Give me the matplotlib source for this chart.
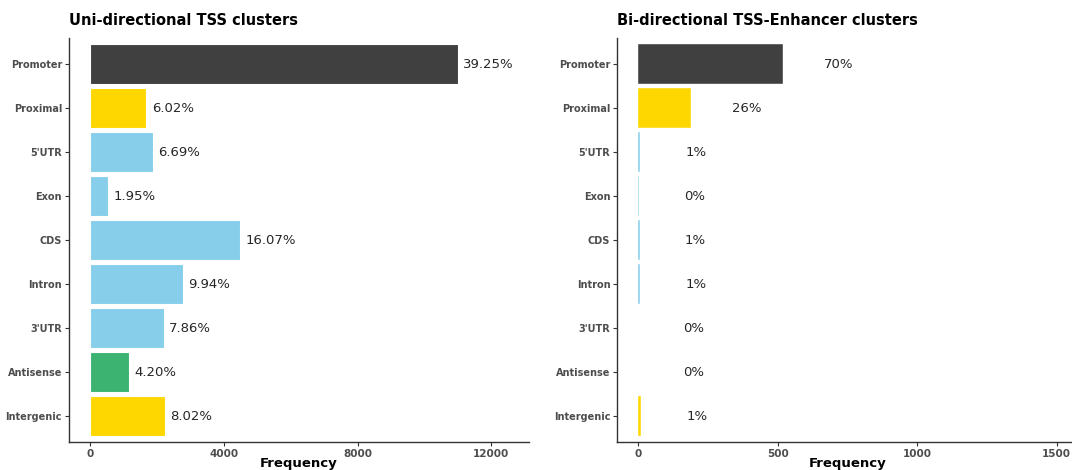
import matplotlib.pyplot as plt

# genomic annotation categories, top to bottom
categories = ["Promoter", "Proximal", "5'UTR", "Exon", "CDS", "Intron",
              "3'UTR", "Antisense", "Intergenic"]
bar_colors = ["#404040", "#FFD700", "#87CEEB", "#87CEEB", "#87CEEB",
              "#87CEEB", "#87CEEB", "#3CB371", "#FFD700"]

# uni-directional TSS clusters: counts and their share
uni_counts = [10990, 1686, 1873, 546, 4500, 2783, 2201, 1176, 2246]
uni_labels = ["39.25%", "6.02%", "6.69%", "1.95%", "16.07%", "9.94%",
              "7.86%", "4.20%", "8.02%"]
uni_ticks = [0, 4000, 8000, 12000]

# bi-directional TSS-enhancer clusters
bi_counts = [520, 190, 8, 2, 5, 6, 0, 0, 10]
bi_labels = ["70%", "26%", "1%", "0%", "1%", "1%", "0%", "0%", "1%"]
bi_ticks = [0, 500, 1000, 1500]

W, H = 1072, 470
fig = plt.figure(figsize=(W / 100, H / 100), dpi=100)

# panel boxes in pixels: left, right, top, bottom
ax1 = fig.add_axes([69 / W, 1 - 442.4 / H, (529 - 69) / W, (442.4 - 37.6) / H])
ax2 = fig.add_axes([617.3 / W, 1 - 442.4 / H, (1077.6 - 617.3) / W, (442.4 - 37.6) / H])

ypos = list(range(len(categories)))


def style_axis(ax, ticks, xlim, title):
    ax.set_xlim(*xlim)
    ax.set_ylim(len(categories) - 1 + 0.6, -0.6)
    ax.set_yticks(ypos)
    ax.set_yticklabels(categories, fontsize=7, fontweight="bold", color="#4D4D4D")
    ax.set_xticks(ticks)
    ax.set_xticklabels([str(t) for t in ticks], fontsize=7.5, fontweight="bold",
                       color="#4D4D4D")
    ax.tick_params(axis="both", length=3, width=0.8, color="#333333", pad=2)
    for side in ["top", "right"]:
        ax.spines[side].set_visible(False)
    for side in ["left", "bottom"]:
        ax.spines[side].set_color("#333333")
        ax.spines[side].set_linewidth(1.0)
    ax.set_xlabel("Frequency", fontsize=9.5, fontweight="bold")
    ax.xaxis.set_label_coords(0.5, -0.037)
    ax.set_title(title, fontsize=10.5, fontweight="bold", loc="left", pad=9)


# left panel
ax1.barh(ypos, uni_counts, height=0.9, color=bar_colors, edgecolor="white",
         linewidth=0.8)
for y, v, lab in zip(ypos, uni_counts, uni_labels):
    ax1.annotate(lab, (v, y), xytext=(4, 0), textcoords="offset points",
                 ha="left", va="center", fontsize=9.5, color="#262626")
style_axis(ax1, uni_ticks, (-625, 13125), "Uni-directional TSS clusters")

# right panel
ax2.barh(ypos, bi_counts, height=0.9, color=bar_colors, edgecolor="white",
         linewidth=0.3)
for y, v, lab in zip(ypos, bi_counts, bi_labels):
    ax2.text(v + 200, y, lab, ha="center", va="center", fontsize=9.5,
             color="#262626")
style_axis(ax2, bi_ticks, (-75, 1575), "Bi-directional TSS-Enhancer clusters")

fig.savefig("out.png", dpi=100)
